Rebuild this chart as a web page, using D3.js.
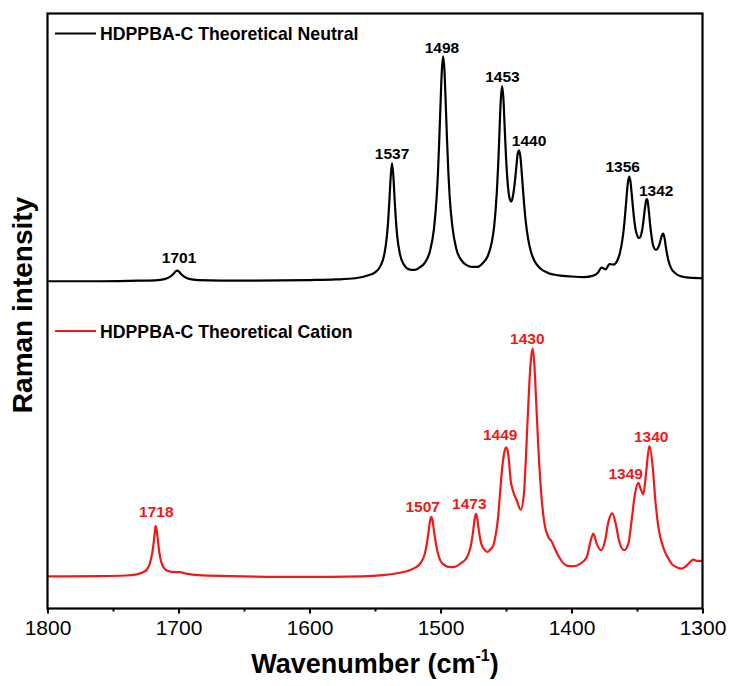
<!DOCTYPE html>
<html>
<head>
<meta charset="utf-8">
<script src="https://cdn.jsdelivr.net/npm/d3@7"></script>
<style>
  html, body { margin: 0; padding: 0; background: #fff; }
  svg { display: block; }
  text { font-family: Arial, "Liberation Sans", sans-serif; }
</style>
</head>
<body>
<svg id="chart" width="729" height="686"></svg>
<script>
// ---------------- DATA ----------------
const majorTicks = [1800, 1700, 1600, 1500, 1400, 1300];
const minorTicks = [1750, 1650, 1550, 1450, 1350];

const seriesNames = ["HDPPBA-C Theoretical Neutral", "HDPPBA-C Theoretical Cation"];

// Neutral spectrum (wavenumber, intensity a.u.)
const neutralWn = [1800,1760,1730,1716,1710,1706,1704,1702.5,1701,1699.5,1698,1696,1692,1685,1650,1600,1580,1565,
  1555,1550,1546,1543,1541,1540,1539,1538,1537,1536,1535,1534,1533,1531,1528,1524,1520,1516,1512,1508,1505,1503,
  1502,1501,1500,1499,1498,1497,1496,1495,1494,1493,1491,1488,1484,1480,1476,1472,1468,1464,1461,1459,1457,1456,
  1455,1454,1453,1452,1451,1450,1449,1448,1447,1446,1445,1444,1443,1442,1441,1440,1439,1438,1437,1436,1435,1433,
  1431,1428,1424,1418,1410,1400,1390,1384,1380,1377,1374,1371,1368,1365,1363,1361,1360,1359,1358,1357,1356,1355,
  1354,1353,1352,1351,1350,1349,1348,1347,1346,1345,1344,1343,1342.5,1342,1341,1340,1339,1338,1337,1336,1335,1334,
  1333,1332,1331,1330,1329,1328,1327,1326,1324,1321,1316,1310,1300];
const neutralInt = [55.0,55.0,55.1,55.2,55.4,55.8,56.2,56.6,56.8,56.6,56.2,55.8,55.4,55.2,55.1,55.2,55.3,55.5,
  56.0,56.5,57.5,59.4,62.4,65.0,68.6,72.6,74.8,72.7,68.7,65.1,62.5,59.6,57.8,57.0,56.9,57.3,58.1,60.1,63.8,68.9,
  72.9,78.4,84.6,90.3,92.8,90.5,84.8,78.7,73.3,69.2,64.3,60.5,58.5,57.7,57.4,57.4,58.0,59.2,61.4,64.3,70.0,74.4,
  80.0,85.4,87.8,85.8,80.8,75.9,72.3,69.9,68.7,68.4,69.0,70.3,72.2,74.5,76.5,77.0,75.9,73.3,70.3,67.5,65.2,62.0,
  60.0,58.3,57.2,56.4,56.0,55.8,55.7,55.9,56.4,57.3,57.0,57.9,57.8,58.5,59.8,62.2,64.0,66.4,69.1,71.5,72.6,71.8,
  69.6,67.2,65.1,63.6,62.8,62.3,62.3,62.7,63.7,65.3,67.2,68.6,68.8,68.6,66.9,64.6,62.7,61.3,60.6,60.3,60.3,60.6,
  61.1,61.9,62.7,63.0,62.3,60.8,59.5,58.5,57.2,56.4,55.8,55.6,55.5];

// Cation spectrum (wavenumber, intensity a.u.)
const cationWn = [1800,1760,1740,1733,1728,1724,1722,1721,1720,1719,1718,1717.5,1717,1716,1715,1714,1713,1711,1708,
  1703,1699,1694,1685,1660,1607,1560,1544,1531,1524,1519,1515,1512,1511,1510,1509,1508,1507,1506,1505,1504,1503,
  1502,1500,1497,1494,1490,1487,1484,1481,1479,1477,1476,1475,1474,1473,1472,1471,1470,1469,1468,1466,1464.3,1462,
  1459.7,1458,1456,1454.5,1453.3,1451.5,1450,1449,1448,1446.4,1444.4,1441.8,1438.8,1436.3,1434.2,1432.2,1431,1429.6,
  1428.5,1427.6,1425.6,1423.5,1421,1417.7,1415.2,1412.6,1408.8,1403.7,1398.6,1393.5,1388.4,1385.9,1383.4,1380.8,
  1377.5,1374.4,1371.9,1368.9,1366.3,1363.7,1359.7,1356.6,1354.1,1351.5,1349,1347.2,1345.2,1343.1,1340.6,1338,1336,
  1333.7,1330,1326.1,1323.5,1319.7,1315.9,1312.1,1309,1307,1303.9,1300];
const cationInt = [5.4,5.45,5.55,5.7,6.0,6.6,7.5,8.3,9.4,11.0,12.9,13.9,13.6,12.0,10.0,8.6,7.7,6.8,6.3,
  6.1,6.1,5.85,5.6,5.45,5.3,5.4,5.6,6.0,6.4,6.9,7.7,9.2,10.2,11.5,13.1,14.7,15.4,14.7,13.1,11.6,10.3,
  9.3,8.0,7.3,7.0,6.95,7.2,7.7,8.2,9.0,10.4,11.6,13.2,15.0,15.9,15.2,13.5,12.1,11.0,10.4,9.8,9.5,9.9,
  10.6,12.2,15.4,19.5,22.7,26.0,27.1,26.8,25.4,21.5,19.6,18.2,16.6,19.3,28.3,37.8,41.8,43.7,
  41.5,37.8,28.3,20.4,14.8,12.0,11.3,10.0,8.4,7.2,7.1,7.5,8.6,10.9,12.6,10.9,
  9.8,11.4,14.5,16.0,14.3,11.4,9.8,10.9,14.8,19.3,21.1,20.1,19.2,22.7,27.3,23.8,18.2,
  13.7,10.3,8.4,7.5,6.95,6.7,7.2,7.9,8.2,8.0,8.0];

// Peak annotations (label text, anchor wavenumber, anchor intensity)
const neutralLabels = ["1701","1537","1498","1453","1440","1356","1342"];
const neutralLabelWn = [1699.6,1537.0,1498.9,1452.7,1432.4,1360.9,1335.3];
const neutralLabelInt = [58.0,75.6,93.4,88.5,77.7,73.4,69.3];

const cationLabels = ["1718","1507","1473","1449","1430","1349","1340"];
const cationLabelWn = [1716.9,1513.6,1478.0,1454.4,1433.7,1358.6,1339.2];
const cationLabelInt = [15.3,16.2,16.8,28.3,44.5,21.7,28.0];

// ---------------- LAYOUT ----------------
const plot = { left: 47.5, right: 702.5, top: 13.5, bottom: 608.5 };
const colNeutral = "#000000", colCation = "#f21818";

const svg = d3.select("#chart");

const x = d3.scaleLinear().domain([1800, 1300]).range([plot.left, plot.right]);
const y = d3.scaleLinear().domain([0, 100]).range([plot.bottom, plot.top]);

const line = d3.line()
  .x(d => x(d[0]))
  .y(d => y(d[1]))
  .curve(d3.curveMonotoneX);

const neutral = d3.zip(neutralWn, neutralInt);
const cation = d3.zip(cationWn, cationInt);

svg.append("clipPath").attr("id", "clip")
  .append("rect").attr("x", plot.left).attr("y", plot.top)
  .attr("width", plot.right - plot.left).attr("height", plot.bottom - plot.top);

const g = svg.append("g").attr("clip-path", "url(#clip)");
g.append("path").datum(neutral).attr("d", line)
  .attr("fill", "none").attr("stroke", colNeutral).attr("stroke-width", 2.2).attr("stroke-linejoin", "round");
g.append("path").datum(cation).attr("d", line)
  .attr("fill", "none").attr("stroke", colCation).attr("stroke-width", 2.2).attr("stroke-linejoin", "round");

// peak labels
svg.append("g").selectAll("text").data(d3.zip(neutralLabels, neutralLabelWn, neutralLabelInt)).join("text")
  .attr("x", d => x(d[1])).attr("y", d => y(d[2]))
  .attr("text-anchor", "middle").attr("font-size", 15.5).attr("font-weight", "bold")
  .attr("fill", colNeutral).text(d => d[0]);
svg.append("g").selectAll("text").data(d3.zip(cationLabels, cationLabelWn, cationLabelInt)).join("text")
  .attr("x", d => x(d[1])).attr("y", d => y(d[2]))
  .attr("text-anchor", "middle").attr("font-size", 15.5).attr("font-weight", "bold")
  .attr("fill", colCation).text(d => d[0]);

// axes
const xAxis = d3.axisBottom(x).tickValues(majorTicks).tickFormat(d3.format("d")).tickSize(5).tickPadding(7);
const gx = svg.append("g").attr("transform", `translate(0,${plot.bottom})`).call(xAxis);
gx.select(".domain").remove();
gx.selectAll(".tick line").attr("stroke", "#000").attr("stroke-width", 2);
gx.selectAll(".tick text").attr("font-size", 21).attr("font-family", "Arial, 'Liberation Sans', sans-serif").attr("fill", "#000");

const xMinor = d3.axisBottom(x).tickValues(minorTicks).tickFormat("").tickSize(3);
const gm = svg.append("g").attr("transform", `translate(0,${plot.bottom})`).call(xMinor);
gm.select(".domain").remove();
gm.selectAll(".tick line").attr("stroke", "#000").attr("stroke-width", 2);

// frame
svg.append("rect").attr("x", plot.left).attr("y", plot.top)
  .attr("width", plot.right - plot.left).attr("height", plot.bottom - plot.top)
  .attr("fill", "none").attr("stroke", "#000").attr("stroke-width", 2.2);

// axis titles
const xt = svg.append("text").attr("x", (plot.left + plot.right) / 2).attr("y", 673)
  .attr("text-anchor", "middle").attr("font-size", 27).attr("font-weight", "bold").attr("fill", "#000");
xt.append("tspan").text("Wavenumber (cm");
xt.append("tspan").attr("font-size", 16).attr("dy", -12).text("-1");
xt.append("tspan").attr("dy", 12).text(")");

svg.append("text")
  .attr("transform", `translate(32,305) rotate(-90)`)
  .attr("text-anchor", "middle").attr("font-size", 28).attr("font-weight", "bold").attr("fill", "#000")
  .text("Raman intensity");

// legends
const legends = [
  { name: seriesNames[0], color: colNeutral, yLine: 33.5 },
  { name: seriesNames[1], color: colCation, yLine: 331 }
];
legends.forEach(l => {
  svg.append("line").attr("x1", 55).attr("x2", 96).attr("y1", l.yLine).attr("y2", l.yLine)
    .attr("stroke", l.color).attr("stroke-width", 2.2);
  svg.append("text").attr("x", 100).attr("y", l.yLine + 6.5)
    .attr("font-size", 17.7).attr("font-weight", "bold").attr("fill", "#000").text(l.name);
});
</script>
</body>
</html>
